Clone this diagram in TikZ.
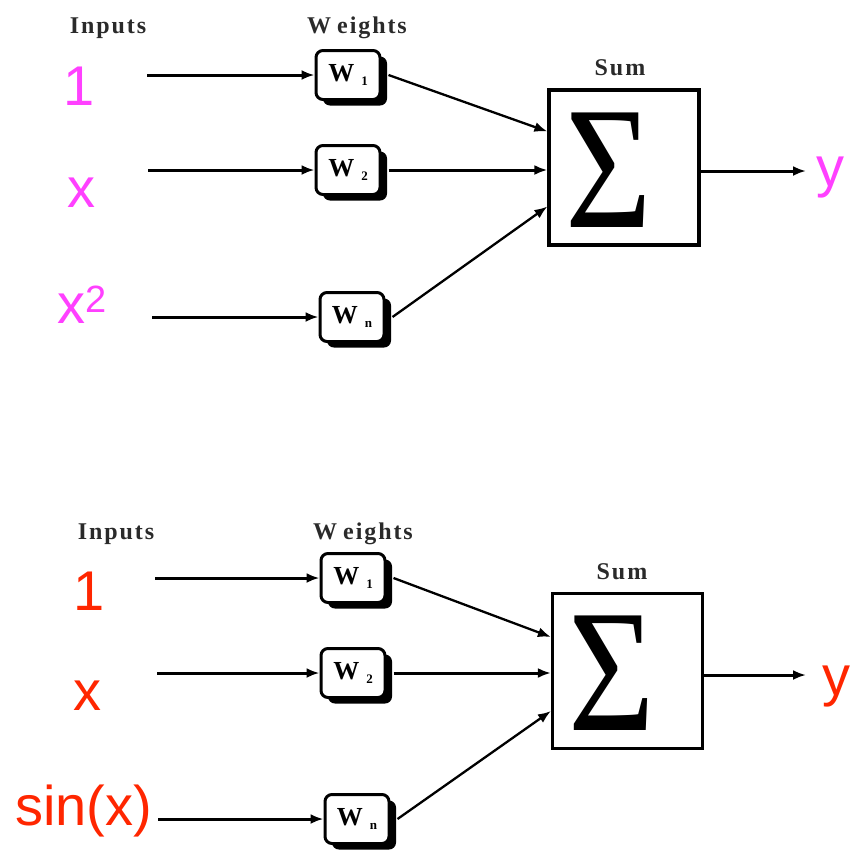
\documentclass[tikz,border=0pt]{standalone}
\usepackage{fontspec}
\usepackage{graphicx}
\usetikzlibrary{arrows.meta,shadows,calc}
\setmainfont{Liberation Serif}
\newfontfamily\lblfont[LetterSpace=8]{Liberation Serif}
\newfontfamily\inputfont{Liberation Sans}
\definecolor{mag}{HTML}{FF40FF}
\definecolor{redin}{HTML}{FF2600}
\definecolor{lbl}{HTML}{2A2A2A}
\newcommand{\wlab}[1]{W\hspace{7pt}\raisebox{-4pt}{\fontsize{13}{13}\selectfont #1}}
\begin{document}
\begin{tikzpicture}[x=1pt,y=-1pt,
  hdr/.style={font=\lblfont\bfseries\fontsize{24}{24}\selectfont, text=lbl, anchor=base, inner sep=0},
  wbox/.style={draw, line width=3pt, rounded corners=7pt, fill=white,
    minimum width=64pt, minimum height=49pt, inner sep=0,
    drop shadow={shadow xshift=7pt, shadow yshift=-6pt, fill=black, opacity=1},
    font=\bfseries\fontsize{26}{26}\selectfont},
  sumbox/.style={draw, line width=3.2pt, minimum width=150pt, minimum height=155pt, inner sep=0},
  inp/.style={font=\inputfont\fontsize{56}{56}\selectfont, inner sep=0},
  harr/.style={line width=3pt, -{Latex[length=13pt,width=10pt]}},
  darr/.style={line width=2.3pt, -{Latex[length=13pt,width=10pt]}},
  sig/.style={inner sep=0, font=\fontsize{175}{175}\selectfont}
]
\useasboundingbox[fill=white] (0,0) rectangle (853,849);

% ---------- top diagram ----------
\node[hdr] (hin1) at (108,33) {Inputs};
\node[hdr] (hw1) at (357,33) {W\hspace{6pt}eights};
\node[hdr] (hs1) at (620,75) {Sum};

\node[inp, text=mag, anchor=base] (a1) at (79,105) {1};
\node[inp, text=mag, anchor=base] (a2) at (81,207) {x};
\node[inp, text=mag, anchor=base west] (a3) at (57,323) {x\raisebox{11pt}{\fontsize{38}{38}\selectfont 2}};

\node[wbox] (w1) at (348,75) {\wlab{1}};
\node[wbox] (w2) at (348,170) {\wlab{2}};
\node[wbox] (wn) at (352,317) {\wlab{n}};

\node[sumbox] (sum1) at (624,167.5) {};
\node[sig] (sig1) at (608.5,170) {\scalebox{0.85}[1]{Σ}};

\coordinate (s1) at (147,75);
\coordinate (s2) at (148,170);
\coordinate (s3) at (152,317);
\draw[harr] (s1) -- (s1 -| w1.west);
\draw[harr] (s2) -- (s2 -| w2.west);
\draw[harr] (s3) -- (s3 -| wn.west);

\draw[darr] ([xshift=7pt]w1.east) -- ($(sum1.west)+(0,-36)$);
\draw[harr] ([xshift=7pt]w2.east) -- (w2.east -| sum1.west);
\draw[darr] ([xshift=7pt]wn.east) -- ($(sum1.west)+(0,39)$);

\coordinate (o1) at (806,171);
\draw[harr] (sum1.east |- o1) -- (o1);
\node[inp, text=mag, anchor=base] (y1) at (830,186) {y};

% ---------- bottom diagram ----------
\node[hdr] (hin2) at (116,539) {Inputs};
\node[hdr] (hw2) at (363,539) {W\hspace{6pt}eights};
\node[hdr] (hs2) at (622,579) {Sum};

\node[inp, text=redin, anchor=base] (b1) at (89,610) {1};
\node[inp, text=redin, anchor=base] (b2) at (87,710) {x};
\node[inp, text=redin, anchor=base west] (b3) at (15,825) {sin(x)};

\node[wbox] (v1) at (353,578) {\wlab{1}};
\node[wbox] (v2) at (353,673) {\wlab{2}};
\node[wbox] (vn) at (357,819) {\wlab{n}};

\node[sumbox] (sum2) at (627.5,671) {};
\node[sig] (sig2) at (612,673.5) {\scalebox{0.85}[1]{Σ}};

\coordinate (t1) at (155,578);
\coordinate (t2) at (157,673);
\coordinate (t3) at (158,819);
\draw[harr] (t1) -- (t1 -| v1.west);
\draw[harr] (t2) -- (t2 -| v2.west);
\draw[harr] (t3) -- (t3 -| vn.west);

\draw[darr] ([xshift=7pt]v1.east) -- ($(sum2.west)+(0,-34)$);
\draw[harr] ([xshift=7pt]v2.east) -- (v2.east -| sum2.west);
\draw[darr] ([xshift=7pt]vn.east) -- ($(sum2.west)+(0,40)$);

\coordinate (o2) at (806,675);
\draw[harr] (sum2.east |- o2) -- (o2);
\node[inp, text=redin, anchor=base] (y2) at (836,695) {y};
\end{tikzpicture}
\end{document}
